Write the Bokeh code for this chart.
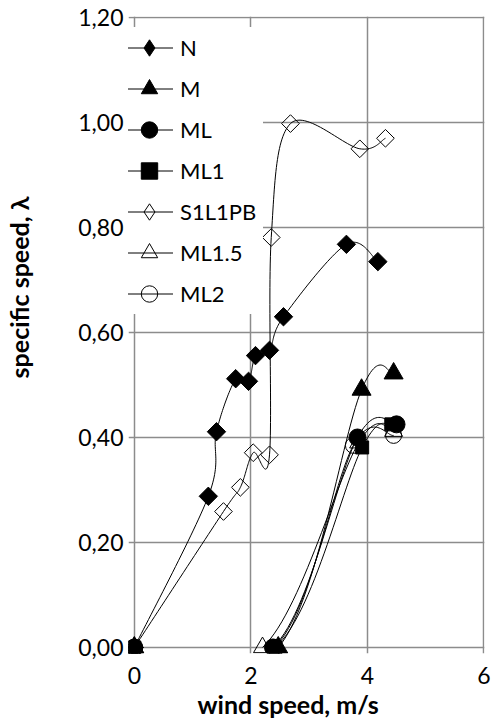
import numpy as np
from bokeh.plotting import figure
from bokeh.layouts import row
from bokeh.models import Range1d, FixedTicker, Legend, LegendItem, Title, Label
from bokeh.embed import file_html
from bokeh.resources import INLINE

# Wind speed (m/s) and specific speed (lambda) for each rotor configuration
n_speed = [0.0, 1.27, 1.41, 1.74, 1.96, 2.08, 2.32, 2.56, 3.64, 4.18]
n_lambda = [0.0, 0.288, 0.411, 0.512, 0.507, 0.556, 0.566, 0.630, 0.768, 0.735]

m_speed = [0.0, 2.47, 3.90, 4.45]
m_lambda = [0.0, 0.0, 0.491, 0.522]

ml_speed = [0.0, 2.38, 3.83, 4.50]
ml_lambda = [0.0, 0.0, 0.400, 0.425]

ml1_speed = [0.0, 2.42, 3.91, 4.41]
ml1_lambda = [0.0, 0.0, 0.381, 0.425]

s1l1pb_speed = [0.0, 1.53, 1.82, 2.04, 2.32, 2.35, 2.68, 3.87, 4.31]
s1l1pb_lambda = [0.0, 0.259, 0.305, 0.371, 0.367, 0.781, 0.998, 0.950, 0.970]

ml15_speed = [0.0, 2.20, 3.85, 4.45]
ml15_lambda = [0.0, 0.0, 0.390, 0.412]

ml2_speed = [0.0, 2.40, 3.76, 4.45]
ml2_lambda = [0.0, 0.0, 0.385, 0.404]

x_ticks = [0, 2, 4, 6]
x_tick_labels = ["0", "2", "4", "6"]
y_ticks = [0.0, 0.2, 0.4, 0.6, 0.8, 1.0, 1.2]
y_tick_labels = ["0,00", "0,20", "0,40", "0,60", "0,80", "1,00", "1,20"]

FONT = "Lato"
GRID = "#8c8c8c"
TITLE_STRIP = 36   # width of the strip holding the vertical axis title


def smooth_path(xs, ys, steps=30):
    """Smoothed connecting line (cubic Bezier through every point),
    trimmed where it would dip below the bottom of the plot area."""
    x = np.asarray(xs, float)
    y = np.asarray(ys, float)
    px = np.concatenate([[x[0]], x, [x[-1]]])
    py = np.concatenate([[y[0]], y, [y[-1]]])
    t = np.linspace(0.0, 1.0, steps)
    out_x, out_y = [], []
    for i in range(len(x) - 1):
        x0, y0 = px[i + 1], py[i + 1]
        x3, y3 = px[i + 2], py[i + 2]
        x1 = x0 + (x3 - px[i]) / 6.0
        y1 = y0 + (y3 - py[i]) / 6.0
        x2 = x3 - (px[i + 3] - x0) / 6.0
        y2 = y3 - (py[i + 3] - y0) / 6.0
        bx = (1 - t) ** 3 * x0 + 3 * (1 - t) ** 2 * t * x1 + 3 * (1 - t) * t ** 2 * x2 + t ** 3 * x3
        by = (1 - t) ** 3 * y0 + 3 * (1 - t) ** 2 * t * y1 + 3 * (1 - t) * t ** 2 * y2 + t ** 3 * y3
        out_x.extend(bx)
        out_y.extend(by)
    out_x = np.array(out_x)
    out_y = np.array(out_y)
    out_y[out_y < -1e-6] = np.nan
    return out_x, out_y


p = figure(width=492 - TITLE_STRIP, height=726,
           x_range=Range1d(-0.1, 6.01), y_range=Range1d(-0.0115, 1.202),
           output_backend="svg", toolbar_location=None,
           min_border_left=128 - TITLE_STRIP, min_border_right=8,
           min_border_top=16, min_border_bottom=73)
p.outline_line_color = None
p.background_fill_color = "white"

# axes: only tick labels; the grid draws the axis lines
p.xaxis.ticker = FixedTicker(ticks=x_ticks)
p.yaxis.ticker = FixedTicker(ticks=y_ticks)
p.xaxis.major_label_overrides = {t: s for t, s in zip(x_ticks, x_tick_labels)}
p.yaxis.major_label_overrides = {t: s for t, s in zip(y_ticks, y_tick_labels)}
for ax in (p.xaxis, p.yaxis):
    ax.axis_line_color = None
    ax.major_tick_line_color = None
    ax.minor_tick_line_color = None
    ax.major_tick_out = 0
    ax.major_tick_in = 0
    ax.major_label_text_font = FONT
    ax.major_label_text_font_size = "23px"
    ax.major_label_text_color = "black"
p.xaxis.major_label_standoff = 13
p.yaxis.major_label_standoff = 5

p.xgrid.ticker = FixedTicker(ticks=x_ticks)
p.ygrid.ticker = FixedTicker(ticks=y_ticks)
for g in (p.xgrid, p.ygrid):
    g.grid_line_color = GRID
    g.grid_line_width = 1.5

series = [
    ("ML2", ml2_speed, ml2_lambda, dict(marker="circle", size=16, fill_color=None)),
    ("ML1.5", ml15_speed, ml15_lambda, dict(marker="triangle", size=18, fill_color=None)),
    ("S1L1PB", s1l1pb_speed, s1l1pb_lambda, dict(marker="square", size=12.5, angle=np.pi / 4, fill_color=None)),
    ("ML1", ml1_speed, ml1_lambda, dict(marker="square", size=13, fill_color="black")),
    ("ML", ml_speed, ml_lambda, dict(marker="circle", size=17, fill_color="black")),
    ("M", m_speed, m_lambda, dict(marker="triangle", size=19, fill_color="black")),
    ("N", n_speed, n_lambda, dict(marker="square", size=13, angle=np.pi / 4, fill_color="black")),
]

items = {}
for name, xs, ys, style in series:
    cx, cy = smooth_path(xs, ys)
    ln = p.line(cx, cy, line_color="black", line_width=1)
    key = []
    if style.get("angle"):
        # diamond key for the legend, sitting under the first marker of the series
        key.append(p.scatter(xs[:1], ys[:1], marker="diamond", size=17,
                             fill_color=style["fill_color"], line_color="black", line_width=1))
    sc = p.scatter(xs, ys, line_color="black", line_width=1, **style)
    items[name] = LegendItem(label=name, renderers=[ln] + (key if key else [sc]))

legend_order = ["N", "M", "ML", "ML1", "S1L1PB", "ML1.5", "ML2"]
legend = Legend(items=[items[k] for k in legend_order],
                location=(-3, 339), orientation="vertical",
                padding=0, spacing=0, margin=0,
                glyph_width=48, glyph_height=41, label_height=41,
                label_width=83, label_standoff=7,
                label_text_font=FONT, label_text_font_size="22px",
                label_text_color="black",
                background_fill_color="white", background_fill_alpha=1.0,
                border_line_color=None)
p.add_layout(legend, "center")

p.add_layout(Title(text="wind speed, m/s", align="left", offset=69,
                   standoff=0, text_font=FONT, text_font_style="bold",
                   text_font_size="25px", text_color="black"), "below")

# narrow strip to the left carrying the vertical axis title
strip = figure(width=TITLE_STRIP, height=726,
               x_range=Range1d(0, 1), y_range=Range1d(0, 1),
               output_backend="svg", toolbar_location=None,
               min_border_left=0, min_border_right=0,
               min_border_top=0, min_border_bottom=0)
strip.axis.visible = False
strip.grid.visible = False
strip.outline_line_color = None
strip.add_layout(Label(x=18, y=726 - 360, x_units="screen", y_units="screen",
                       text="specific speed, λ", angle=np.pi / 2,
                       text_align="center", text_baseline="middle",
                       text_font=FONT, text_font_style="bold", text_font_size="25px",
                       text_color="black"))

layout = row(strip, p, spacing=0)
open("out.html", "w").write(file_html(layout, INLINE))
